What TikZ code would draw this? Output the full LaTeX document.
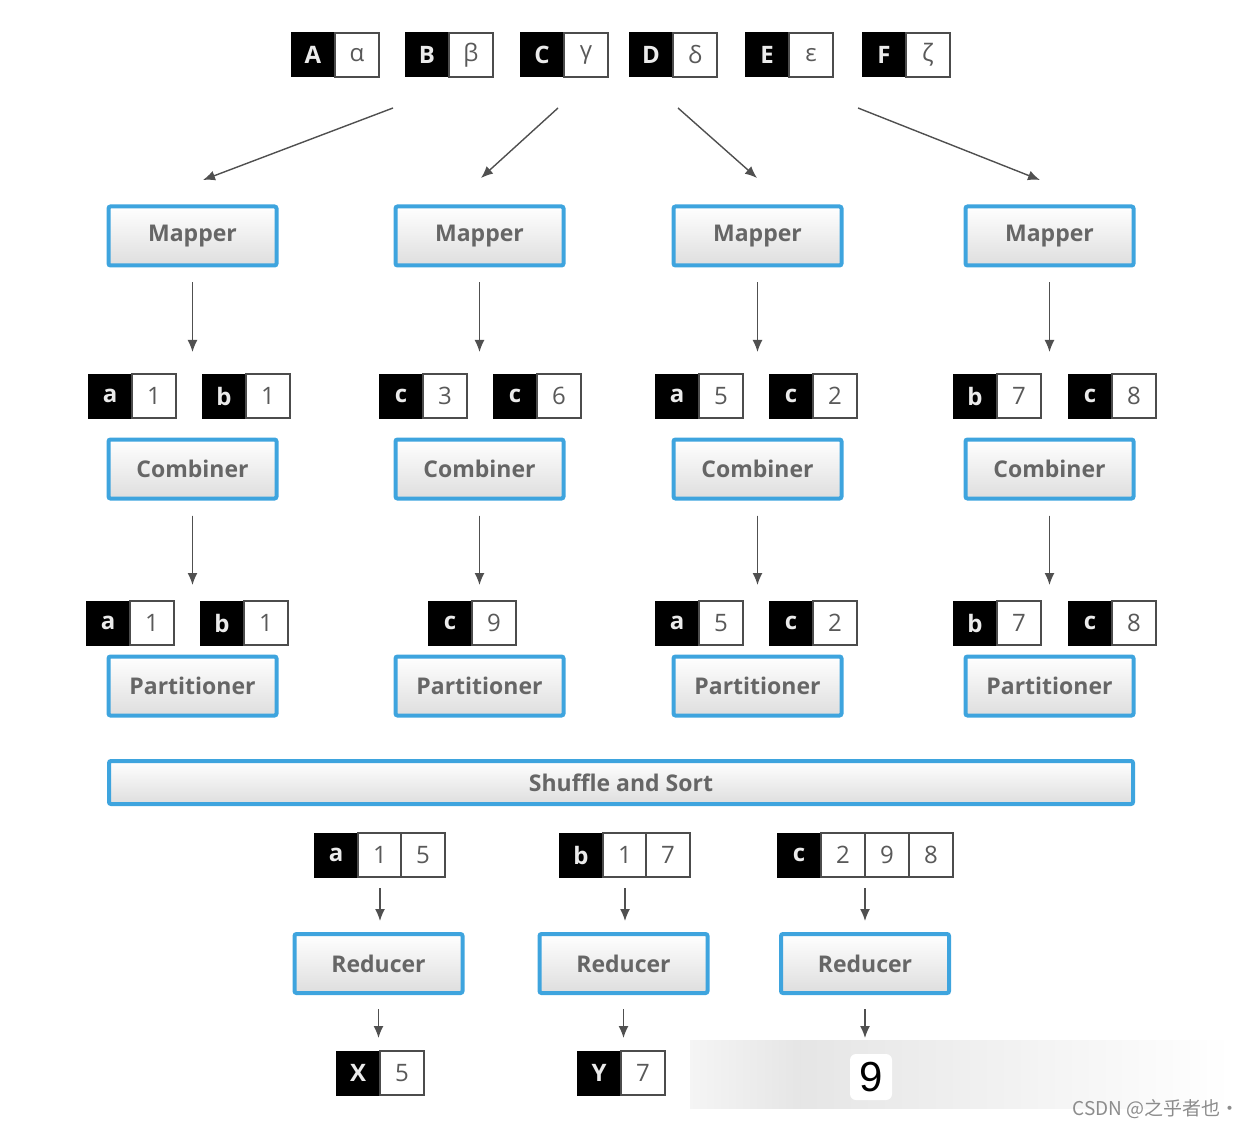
\documentclass[tikz,border=0pt]{standalone}
\usepackage{fontspec}
\setmainfont{Open Sans}
\newfontfamily\cjkfont{Noto Sans CJK SC}
\newfontfamily\helvfont{Liberation Sans}
\usepackage{tikz}
\usetikzlibrary{arrows,arrows.meta,shapes}
\definecolor{boxblue}{RGB}{62,164,222}
\definecolor{labelgray}{RGB}{102,102,102}
\definecolor{arrowgray}{RGB}{80,80,80}
\newcommand{\kvpair}[5]{%
  \node (#1k) at (#2+22,#3) [keycell] {#4};
  \node (#1v) at (#2+66,#3) [valcell] {#5};}

\begin{document}
\begin{tikzpicture}[>={Latex[length=6pt,width=5pt]}, x=0.5pt, y=-0.5pt]
      \tikzstyle{every node}=[font=\fontsize{12}{14}\selectfont]
      \tikzstyle{keycell}=[draw=black, fill=black, text=black!8, font=\fontsize{12}{14}\selectfont\bfseries, minimum width=22pt, minimum height=22pt, inner sep=0pt, outer sep=0pt, line width=0.5pt]
      \tikzstyle{valcell}=[draw=black!70, fill=white, text=black!65, minimum width=22pt, minimum height=22pt, inner sep=0pt, outer sep=0pt, line width=0.6pt]
      \tikzstyle{stagebox}=[draw=boxblue, line width=2pt, rounded corners=1pt, top color=white, bottom color=black!13, text=labelgray, font=\fontsize{11.5}{13}\selectfont\bfseries, minimum width=84pt, minimum height=29.5pt, inner sep=0pt]
      \tikzstyle{flow}=[->, draw=arrowgray, fill=arrowgray, line width=0.7pt]
      \useasboundingbox (0,0) rectangle (1246,1128);
      %% input records
\kvpair{inA}{291}{55}{A}{α}
  \kvpair{inB}{405}{55}{B}{β}
  \kvpair{inC}{520}{55}{C}{γ}
  \kvpair{inD}{629}{55}{D}{δ}
  \kvpair{inE}{745}{55}{E}{ε}
  \kvpair{inF}{862}{55}{F}{ζ}
  \coordinate (split1) at (393,108);
  \coordinate (split2) at (558,108);
  \coordinate (split3) at (678,108);
  \coordinate (split4) at (858,108);
  %% mappers
  \node (map1) at (192.5,236) [stagebox] {Mapper};
  \node (map2) at (479.5,236) [stagebox] {Mapper};
  \node (map3) at (757.5,236) [stagebox] {Mapper};
  \node (map4) at (1049.5,236) [stagebox] {Mapper};
  \coordinate (map1in) at (203,180);
  \coordinate (map2in) at (481,178);
  \coordinate (map3in) at (757,178);
  \coordinate (map4in) at (1040,180);
  \draw [flow] (split1) -- (map1in);
  \draw [flow] (split2) -- (map2in);
  \draw [flow] (split3) -- (map3in);
  \draw [flow] (split4) -- (map4in);
  %% map output
  \kvpair{mo1a}{88}{396}{a}{1}
  \kvpair{mo1b}{202}{396}{b}{1}
  \kvpair{mo2a}{379}{396}{c}{3}
  \kvpair{mo2b}{493}{396}{c}{6}
  \kvpair{mo3a}{655}{396}{a}{5}
  \kvpair{mo3b}{769}{396}{c}{2}
  \kvpair{mo4a}{953}{396}{b}{7}
  \kvpair{mo4b}{1068}{396}{c}{8}
  \coordinate (mo1) at (192.5,352);
  \coordinate (mo2) at (479.5,352);
  \coordinate (mo3) at (757.5,352);
  \coordinate (mo4) at (1049.5,352);
  \draw [flow, shorten <=7.5pt] (map1) -- (mo1);
  \draw [flow, shorten <=7.5pt] (map2) -- (mo2);
  \draw [flow, shorten <=7.5pt] (map3) -- (mo3);
  \draw [flow, shorten <=7.5pt] (map4) -- (mo4);
  %% combiners
  \node (comb1) at (192.5,469) [stagebox] {Combiner};
  \node (comb2) at (479.5,469) [stagebox] {Combiner};
  \node (comb3) at (757.5,469) [stagebox] {Combiner};
  \node (comb4) at (1049.5,469) [stagebox] {Combiner};
  \kvpair{co1a}{86}{623}{a}{1}
  \kvpair{co1b}{200}{623}{b}{1}
  \kvpair{co2a}{428}{623}{c}{9}
  \kvpair{co3a}{655}{623}{a}{5}
  \kvpair{co3b}{769}{623}{c}{2}
  \kvpair{co4a}{953}{623}{b}{7}
  \kvpair{co4b}{1068}{623}{c}{8}
  \coordinate (co1) at (192.5,585);
  \coordinate (co2) at (479.5,585);
  \coordinate (co3) at (757.5,585);
  \coordinate (co4) at (1049.5,585);
  \draw [flow, shorten <=7.5pt] (comb1) -- (co1);
  \draw [flow, shorten <=7.5pt] (comb2) -- (co2);
  \draw [flow, shorten <=7.5pt] (comb3) -- (co3);
  \draw [flow, shorten <=7.5pt] (comb4) -- (co4);
  %% partitioners and shuffle
  \node (part1) at (192.5,686) [stagebox] {Partitioner};
  \node (part2) at (479.5,686) [stagebox] {Partitioner};
  \node (part3) at (757.5,686) [stagebox] {Partitioner};
  \node (part4) at (1049.5,686) [stagebox] {Partitioner};
  \node (shuffle) at (621,782.5) [stagebox, minimum width=512pt, minimum height=21.5pt] {Shuffle and Sort};
  %% reducer input
  \kvpair{ria}{314}{855}{a}{1}
  \node (ria2) at (423,855) [valcell] {5};
  \kvpair{rib}{559}{855}{b}{1}
  \node (rib2) at (668,855) [valcell] {7};
  \kvpair{ric}{777}{855}{c}{2}
  \node (ric2) at (887,855) [valcell] {9};
  \node (ric3) at (931,855) [valcell] {8};
  %% reducers
  \node (red1) at (378.5,963.5) [stagebox] {Reducer};
  \node (red2) at (623.5,963.5) [stagebox] {Reducer};
  \node (red3) at (865,963.5) [stagebox] {Reducer};
  \draw [flow, shorten <=5.5pt, shorten >=5.5pt] (riav.south) -- (riav.south |- red1.north);
  \draw [flow, shorten <=5.5pt, shorten >=5.5pt] (ribv.south) -- (ribv.south |- red2.north);
  \draw [flow, shorten <=5.5pt, shorten >=5.5pt] (ric2.south west) -- (ric2.south west |- red3.north);
  %% output
  \shade [left color=black!4, right color=black!10] (690,1040) rectangle (800,1108);
  \shade [left color=black!10, right color=white] (800,1040) rectangle (1232,1108);
  \kvpair{outX}{336}{1073}{X}{5}
  \kvpair{outY}{577}{1073}{Y}{7}
  \node (nine) at (871,1077) [fill=white, rounded corners=3pt, minimum width=21pt, minimum height=23pt, inner sep=0pt, font=\helvfont\fontsize{21}{21}\selectfont] {9};
  \coordinate (out3) at (867,1038);
  \draw [flow, shorten <=7pt, shorten >=6.5pt] (red1.south) -- (red1.south |- outXk.north);
  \draw [flow, shorten <=7pt, shorten >=6.5pt] (red2.south) -- (red2.south |- outYk.north);
  \draw [flow, shorten <=7pt] (red3.south) -- (red3.south |- out3);
  \node (mark) at (1156,1109) [text=black!45, font=\cjkfont\fontsize{9.5}{10}\selectfont] {CSDN @之乎者也·};
%
    \end{tikzpicture}
\end{document}
